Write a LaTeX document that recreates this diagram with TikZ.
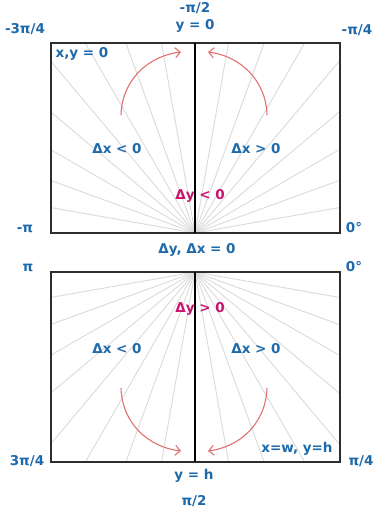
\documentclass[tikz,border=0pt]{standalone}
\usepackage{fontspec}
\setmainfont{DejaVu Sans}
\usetikzlibrary{arrows.meta}
\definecolor{lblue}{RGB}{30,105,170}
\definecolor{lmag}{RGB}{200,20,110}
\definecolor{larrow}{RGB}{226,112,112}
\definecolor{lray}{RGB}{218,218,218}
\definecolor{lbox}{RGB}{45,45,45}
\tikzset{
  lbl/.style={text=lblue, font=\fontsize{13.5}{16}\selectfont\bfseries, inner sep=0pt},
  mlbl/.style={text=lmag, font=\fontsize{13.5}{16}\selectfont\bfseries, inner sep=0pt},
  ray/.style={draw=lray, line width=0.9pt},
  boxline/.style={draw=lbox, line width=1.8pt},
  midline/.style={draw=black, line width=1.4pt},
  turn/.style={draw=larrow, line width=1.1pt, -{Straight Barb[length=5pt,width=10pt]}}
}
\begin{document}
\begin{tikzpicture}[x=1pt,y=-1pt]
\useasboundingbox (0,0) rectangle (373,514);
% top box
\coordinate (tc) at (195,233);
\coordinate (tt) at (195,43);
\begin{scope}
  \clip (51,43) rectangle (340,233);
  \foreach \a in {10,20,...,80,100,110,...,170}
    \draw[ray] (tc) -- ++({-\a}:400);
\end{scope}
\draw[boxline] (51,43) rectangle (340,233);
\draw[midline] (tc) -- (tt);
% bottom box
\coordinate (bc) at (195,272);
\coordinate (bb) at (195,462);
\begin{scope}
  \clip (51,272) rectangle (340,462);
  \foreach \a in {10,20,...,80,100,110,...,170}
    \draw[ray] (bc) -- ++(\a:400);
\end{scope}
\draw[boxline] (51,272) rectangle (340,462);
\draw[midline] (bc) -- (bb);
% arrows
\coordinate (a1s) at (121,115); \coordinate (a1e) at (181,52);
\coordinate (a2s) at (267,115); \coordinate (a2e) at (208,52);
\coordinate (a3s) at (121,388); \coordinate (a3e) at (181,451);
\coordinate (a4s) at (267,388); \coordinate (a4e) at (208,451);
\draw[turn] (a1s) .. controls (122,80) and (148,56) .. (a1e);
\draw[turn] (a2s) .. controls (266,80) and (240,56) .. (a2e);
\draw[turn] (a3s) .. controls (122,423) and (148,447) .. (a3e);
\draw[turn] (a4s) .. controls (266,423) and (240,447) .. (a4e);
% labels
\node[lbl] (l1) at (25,29) {-3π/4};
\node[lbl] (l2) at (195,8) {-π/2};
\node[lbl] (l3) at (195,26) {y = 0};
\node[lbl] (l4) at (357,30) {-π/4};
\node[lbl] (l5) at (82,54) {x,y = 0};
\node[lbl] (l6) at (117,149) {Δx < 0};
\node[lbl] (l7) at (256,149) {Δx > 0};
\node[mlbl] (l8) at (200,196) {Δy < 0};
\node[lbl] (l9) at (25,229) {-π};
\node[lbl] (l10) at (354,228) {0°};
\node[lbl] (l11) at (197,250) {Δy, Δx = 0};
\node[lbl] (l12) at (28,268) {π};
\node[lbl] (l13) at (354,267) {0°};
\node[mlbl] (l14) at (200,309) {Δy > 0};
\node[lbl] (l15) at (117,349) {Δx < 0};
\node[lbl] (l16) at (256,349) {Δx > 0};
\node[lbl] (l17) at (297,449) {x=w, y=h};
\node[lbl] (l18) at (27,461) {3π/4};
\node[lbl] (l19) at (361,461) {π/4};
\node[lbl] (l20) at (194,476) {y = h};
\node[lbl] (l21) at (194,501) {π/2};
\end{tikzpicture}
\end{document}
